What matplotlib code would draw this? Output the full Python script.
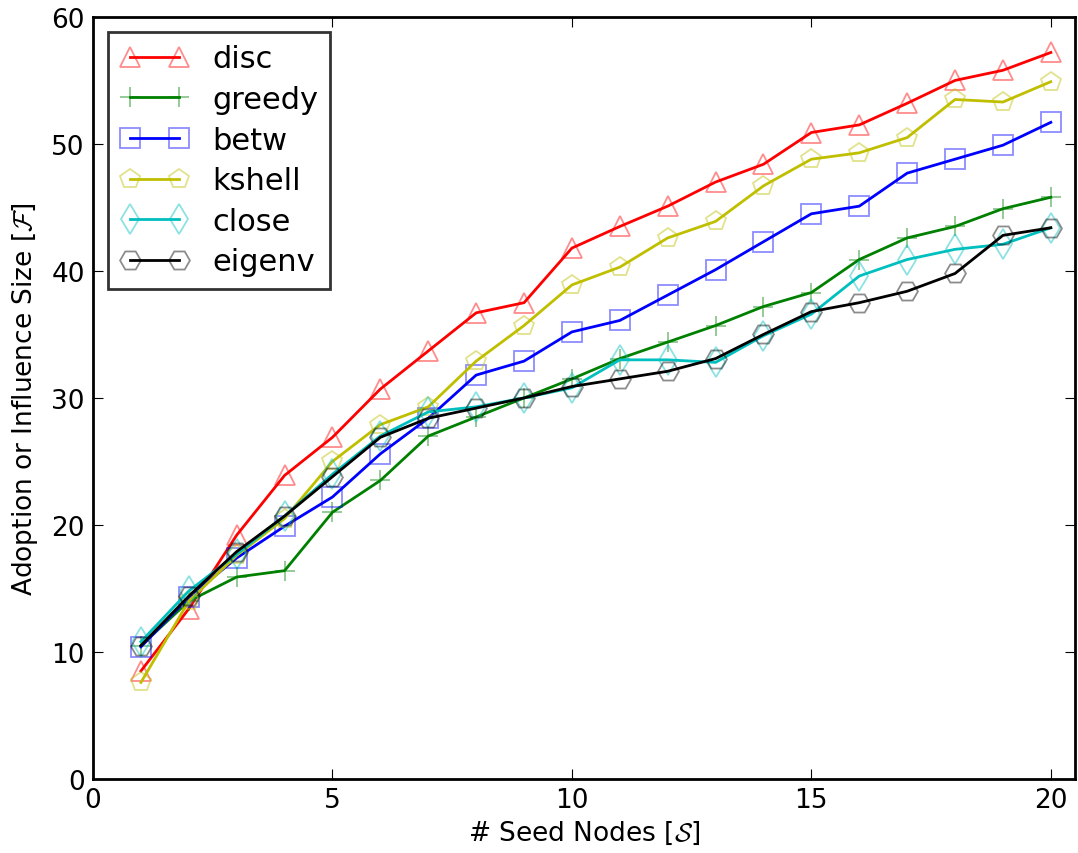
import matplotlib
matplotlib.use("Agg")
import matplotlib.pyplot as plt
from matplotlib.colors import to_rgba

seeds = list(range(1, 21))

disc = [8.5, 13.4, 19.2, 23.9, 26.9, 30.7, 33.7, 36.7, 37.5, 41.8,
        43.5, 45.1, 47.0, 48.4, 50.9, 51.5, 53.2, 55.0, 55.8, 57.2]
greedy = [10.5, 14.0, 15.9, 16.4, 21.0, 23.5, 27.0, 28.5, 30.0, 31.5,
          33.1, 34.4, 35.7, 37.2, 38.3, 40.9, 42.6, 43.5, 44.9, 45.8]
betw = [10.4, 14.3, 17.4, 19.9, 22.2, 25.6, 28.4, 31.8, 32.9, 35.2,
        36.1, 38.1, 40.1, 42.3, 44.5, 45.1, 47.7, 48.8, 49.9, 51.7]
kshell = [7.6, 14.0, 17.6, 20.5, 25.0, 27.9, 29.3, 32.9, 35.7, 38.9,
          40.3, 42.6, 43.9, 46.7, 48.8, 49.3, 50.5, 53.5, 53.3, 54.9]
close = [10.8, 14.8, 17.7, 20.7, 24.0, 27.0, 28.9, 29.3, 30.0, 30.8,
         33.0, 33.0, 32.8, 34.9, 36.6, 39.6, 40.9, 41.7, 42.1, 43.4]
eigenv = [10.5, 14.4, 17.9, 20.7, 23.8, 26.9, 28.4, 29.2, 30.0, 30.9,
          31.5, 32.1, 33.1, 35.0, 36.8, 37.5, 38.4, 39.8, 42.8, 43.4]

series = [("disc", disc, "r", "^"),
          ("greedy", greedy, "g", "+"),
          ("betw", betw, "b", "s"),
          ("kshell", kshell, "y", "p"),
          ("close", close, "c", "d"),
          ("eigenv", eigenv, "k", "H")]

plt.rcParams.update({"font.family": "DejaVu Sans", "font.size": 19,
                     "mathtext.fontset": "cm",
                     "xtick.direction": "in", "ytick.direction": "in",
                     "xtick.top": True, "ytick.right": True,
                     "xtick.major.size": 7, "ytick.major.size": 7,
                     "xtick.major.pad": 6, "ytick.major.pad": 6})

fig = plt.figure(figsize=(10.78, 8.54), dpi=100)
ax = fig.add_axes([0.0863, 0.0867, 0.9107, 0.8923])

for name, vals, col, mk in series:
    ax.plot(seeds, vals, color=col, lw=2, marker=mk, ms=15,
            mfc="none", mec=to_rgba(col, 0.45), mew=1.3, label=name)

ax.set_xlim(0, 20.5)
ax.set_ylim(0, 60)
ax.set_xticks([0, 5, 10, 15, 20])
ax.set_yticks(range(0, 61, 10))
for s in ax.spines.values():
    s.set_linewidth(2)
ax.set_xlabel(r"# Seed Nodes [$\mathcal{S}$]", fontsize=19, labelpad=4)
ax.set_ylabel(r"Adoption or Influence Size [$\mathcal{F}$]", fontsize=19, labelpad=8)

leg = ax.legend(loc="upper left", fancybox=False, edgecolor="k",
                fontsize=22, numpoints=2, handlelength=2.2, handletextpad=0.8,
                labelspacing=0.38, borderaxespad=0.5)
leg.get_frame().set_linewidth(2)

fig.savefig("out.png", dpi=100)
